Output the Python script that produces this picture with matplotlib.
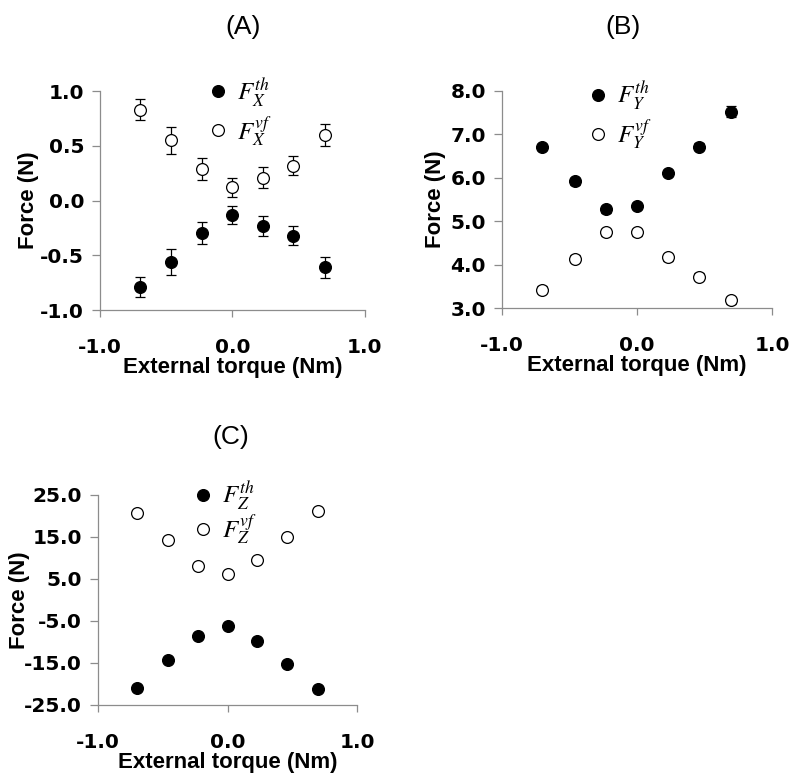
import matplotlib
matplotlib.use('Agg')
import matplotlib.pyplot as plt
from matplotlib.ticker import FormatStrFormatter
from matplotlib.lines import Line2D

plt.rcParams['font.family'] = 'Liberation Sans'
plt.rcParams['mathtext.fontset'] = 'stix'
plt.rcParams['axes.unicode_minus'] = False

# torque levels (Nm)
torque = [-0.70, -0.46, -0.23, 0.0, 0.23, 0.46, 0.70]

# (A) X component
fx_th = [-0.79, -0.56, -0.30, -0.13, -0.23, -0.32, -0.61]
fx_th_err = [0.09, 0.12, 0.10, 0.085, 0.09, 0.09, 0.095]
fx_vf = [0.83, 0.55, 0.29, 0.12, 0.21, 0.32, 0.60]
fx_vf_err = [0.095, 0.12, 0.10, 0.09, 0.095, 0.09, 0.10]

# (B) Y component
fy_th = [6.71, 5.92, 5.28, 5.35, 6.11, 6.72, 7.52]
fy_th_err = [0.08, 0.08, 0.08, 0.08, 0.08, 0.08, 0.13]
fy_vf = [3.42, 4.13, 4.75, 4.75, 4.17, 3.72, 3.18]
fy_vf_err = [0.08, 0.08, 0.08, 0.08, 0.08, 0.08, 0.08]

# (C) Z component
fz_th = [-21.0, -14.4, -8.6, -6.2, -9.8, -15.2, -21.3]
fz_vf = [20.7, 14.2, 8.2, 6.1, 9.6, 15.1, 21.2]

fig = plt.figure(figsize=(7.95, 7.79), dpi=100)
axA = fig.add_axes([0.1258, 0.602, 0.333, 0.281])
axB = fig.add_axes([0.6314, 0.6046, 0.3396, 0.2786])
axC = fig.add_axes([0.1233, 0.095, 0.3258, 0.2696])

def style(ax, ylim, yticks, ylab_x):
    ax.set_xlim(-1, 1)
    ax.set_ylim(*ylim)
    ax.set_xticks([-1, 0, 1])
    ax.set_yticks(yticks)
    ax.xaxis.set_major_formatter(FormatStrFormatter('%.1f'))
    ax.yaxis.set_major_formatter(FormatStrFormatter('%.1f'))
    for s in ['top', 'right']:
        ax.spines[s].set_visible(False)
    for s in ['left', 'bottom']:
        ax.spines[s].set_color('#8c8c8c')
        ax.spines[s].set_linewidth(0.9)
    ax.tick_params(axis='y', direction='out', length=5.5, width=0.9, color='#8c8c8c', pad=6)
    ax.tick_params(axis='x', direction='out', length=5, width=0.9, color='#8c8c8c', pad=15)
    for lab in ax.get_xticklabels() + ax.get_yticklabels():
        lab.set_fontfamily('DejaVu Sans')
        lab.set_fontweight('bold')
        lab.set_fontsize(14.5)
    ax.set_xlabel('External torque (Nm)', fontsize=16, fontweight='bold', labelpad=0)
    ax.set_ylabel('Force (N)', fontsize=16, fontweight='bold', va='center')
    ax.yaxis.set_label_coords(ylab_x, 0.5)

def series(ax, y, yerr, filled):
    face = 'black' if filled else 'white'
    kw = dict(marker='o', markersize=8.5, linestyle='none', zorder=3,
              markeredgecolor='black', markeredgewidth=0.9, markerfacecolor=face)
    if yerr is not None:
        ax.errorbar(torque, y, yerr=yerr, ecolor='black', elinewidth=0.9,
                    capsize=3.5, capthick=0.9, **kw)
    else:
        ax.plot(torque, y, **kw)

def legend(ax, labels, x, y, spacing):
    handles = [Line2D([], [], marker='o', markersize=8.5, linestyle='none',
                      markeredgecolor='black', markeredgewidth=0.9, markerfacecolor=f)
               for f in ['black', 'white']]
    ax.legend(handles, labels, loc='center left', bbox_to_anchor=(x, y), frameon=False,
              fontsize=18, handlelength=0.55, handletextpad=0.5, labelspacing=spacing,
              borderpad=0, borderaxespad=0, numpoints=1)

series(axA, fx_th, fx_th_err, True)
series(axA, fx_vf, fx_vf_err, False)
style(axA, (-1, 1), [-1, -0.5, 0, 0.5, 1], -0.272)
legend(axA, [r'$F_X^{th}$', r'$F_X^{vf}$'], 0.418, 0.905, 0.2)

series(axB, fy_th, fy_th_err, True)
series(axB, fy_vf, fy_vf_err, False)
style(axB, (3, 8), [3, 4, 5, 6, 7, 8], -0.248)
legend(axB, [r'$F_Y^{th}$', r'$F_Y^{vf}$'], 0.33, 0.887, 0.2)

series(axC, fz_th, None, True)
series(axC, fz_vf, None, False)
style(axC, (-25, 25), [-25, -15, -5, 5, 15, 25], -0.305)
legend(axC, [r'$F_Z^{th}$', r'$F_Z^{vf}$'], 0.378, 0.914, 0.0)

fig.text(243 / 795, 1 - 27 / 779, '(A)', fontsize=19, ha='center', va='center')
fig.text(623 / 795, 1 - 27 / 779, '(B)', fontsize=19, ha='center', va='center')
fig.text(231 / 795, 1 - 437 / 779, '(C)', fontsize=19, ha='center', va='center')

fig.savefig('out.png', dpi=100)
